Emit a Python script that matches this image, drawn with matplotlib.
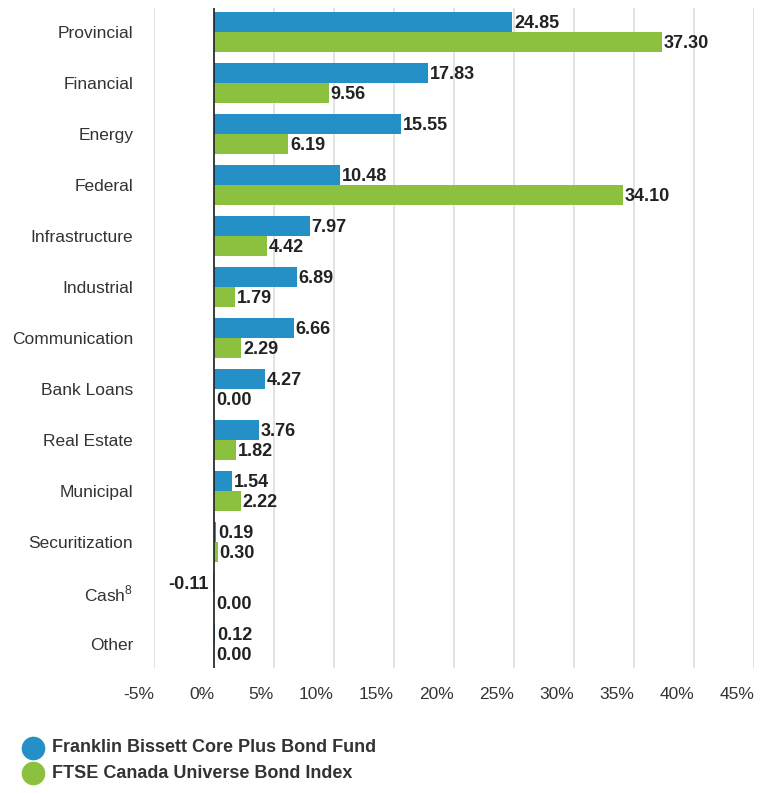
import numpy as np
import matplotlib.pyplot as plt
from matplotlib.lines import Line2D

sectors = ["Provincial", "Financial", "Energy", "Federal", "Infrastructure", "Industrial",
           "Communication", "Bank Loans", "Real Estate", "Municipal", "Securitization",
           "Cash$^{\\mathregular{8}}$", "Other"]
fund = [24.85, 17.83, 15.55, 10.48, 7.97, 6.89, 6.66, 4.27, 3.76, 1.54, 0.19, -0.11, 0.12]
index = [37.30, 9.56, 6.19, 34.10, 4.42, 1.79, 2.29, 0.00, 1.82, 2.22, 0.30, 0.00, 0.00]
xticks = [-5, 0, 5, 10, 15, 20, 25, 30, 35, 40, 45]

blue = "#2490c6"
green = "#8cc13f"
font = "Liberation Sans"

fig = plt.figure(figsize=(7.66, 7.93), dpi=100)
ax = fig.add_axes([154 / 766, 1 - 668 / 793, 600 / 766, 660 / 793])

y = np.arange(len(sectors))
h = 0.39
ax.barh(y - h / 2, fund, height=h, color=blue, zorder=3)
ax.barh(y + h / 2, index, height=h, color=green, zorder=3)

for i in range(len(sectors)):
    for val, off in ((fund[i], -h / 2), (index[i], h / 2)):
        if val < 0:
            ax.text(val - 0.3, y[i] + off + 0.03, f"{val:.2f}", ha="right", va="center",
                    fontsize=13, fontweight="bold", family=font, color="#222222", zorder=4)
        else:
            ax.text(val + 0.15, y[i] + off + 0.03, f"{val:.2f}", ha="left", va="center",
                    fontsize=13, fontweight="bold", family=font, color="#222222", zorder=4)

ax.axvline(0, color="#222222", lw=1.2, zorder=5)
ax.set_xlim(-5, 45)
ax.set_ylim(len(sectors) - 0.53, -0.47)
ax.set_xticks(xticks)
ax.set_xticklabels([f"{t}%" for t in xticks], family=font, fontsize=12.5, color="#333333", ha="right")
ax.set_yticks(y)
ax.set_yticklabels(sectors, family=font, fontsize=12.5, color="#333333")
ax.tick_params(axis="both", length=0)
ax.tick_params(axis="x", pad=14)
ax.tick_params(axis="y", pad=15)
ax.grid(axis="x", color="#dddddd", lw=1.2, zorder=0)
for s in ax.spines.values():
    s.set_visible(False)

# legend
fig.add_artist(Line2D([33 / 766], [1 - 748 / 793], marker="o", markersize=16, color=blue, lw=0))
fig.add_artist(Line2D([33 / 766], [1 - 773 / 793], marker="o", markersize=16, color=green, lw=0))
fig.text(52 / 766, 1 - 748 / 793, "Franklin Bissett Core Plus Bond Fund", va="center", ha="left",
         fontsize=13, fontweight="bold", family=font, color="#333333")
fig.text(52 / 766, 1 - 773 / 793, "FTSE Canada Universe Bond Index", va="center", ha="left",
         fontsize=13, fontweight="bold", family=font, color="#333333")

plt.savefig("out.png", dpi=100)
